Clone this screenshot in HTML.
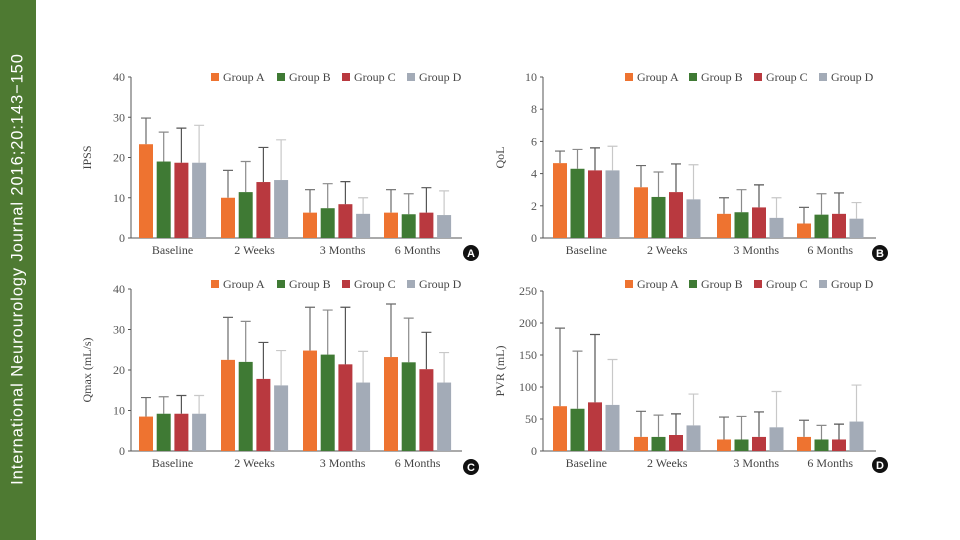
<!DOCTYPE html>
<html><head><meta charset="utf-8">
<style>
body{margin:0;width:960px;height:540px;background:#fff;overflow:hidden;position:relative;font-family:"Liberation Serif",serif;}
#strip{position:absolute;left:0;top:0;width:36px;height:540px;background:#4e7a32;}
#strip span{position:absolute;left:18px;top:269px;transform:translate(-50%,-50%) rotate(-90deg);white-space:nowrap;color:#fff;font-family:"Liberation Sans",sans-serif;font-size:16.5px;letter-spacing:0.9px;}
svg{position:absolute;left:0;top:0;}
</style></head><body>
<div id="strip"><span>International Neurourology Journal 2016;20:143−150</span></div>
<svg id="chart" width="960" height="540"></svg>
<script>
const categories=["Baseline","2 Weeks","3 Months","6 Months"];
const groups=["Group A","Group B","Group C","Group D"];
const ipssMean=[[23.3,19,18.7,18.7],[10,11.4,13.9,14.4],[6.3,7.4,8.4,6],[6.3,5.9,6.3,5.7]];
const ipssTop=[[29.8,26.3,27.3,28],[16.8,19,22.5,24.4],[12,13.5,14,10],[12,11,12.5,11.7]];
const ipssTicks=[0,10,20,30,40];
const qolMean=[[4.65,4.3,4.2,4.2],[3.15,2.55,2.85,2.4],[1.5,1.6,1.9,1.25],[0.9,1.45,1.5,1.2]];
const qolTop=[[5.4,5.5,5.6,5.7],[4.5,4.1,4.6,4.55],[2.5,3.0,3.3,2.5],[1.9,2.75,2.8,2.2]];
const qolTicks=[0,2,4,6,8,10];
const qmaxMean=[[8.5,9.2,9.2,9.2],[22.5,22,17.8,16.2],[24.8,23.8,21.4,16.9],[23.2,21.9,20.2,16.9]];
const qmaxTop=[[13.2,13.4,13.7,13.7],[33,32,26.8,24.8],[35.5,34.8,35.5,24.6],[36.3,32.8,29.3,24.3]];
const qmaxTicks=[0,10,20,30,40];
const pvrMean=[[70,66,76,72],[22,22,25,40],[18,18,22,37],[22,18,18,46]];
const pvrTop=[[192,156,182,143],[62,56,58,89],[53,54,61,93],[48,40,42,103]];
const pvrTicks=[0,50,100,150,200,250];

const colors=["#ee7330","#3f7a34","#b9393f","#a3abb7"];
const errColors=["#6a6a6a","#8a8a8a","#555","#c8c8c8"];
const NS="http://www.w3.org/2000/svg";
const svg=document.getElementById('chart');
function mk(tag,attrs,parent){const e=document.createElementNS(NS,tag);for(const k in attrs)e.setAttribute(k,attrs[k]);(parent||svg).appendChild(e);return e;}

function panel(p){
  const g=mk('g',{});
  
  
  const ymax=p.ticks[p.ticks.length-1];
  const y=v=>p.y0-(v/ymax)*(p.y0-p.y1);
  const barX=(ci,gi)=>p.gx[ci]+gi*p.step;
  const ax=mk('line',{x1:p.ax,y1:p.y1,x2:p.ax,y2:p.y0,stroke:'#555','stroke-width':1},g);
  
  const bx=mk('line',{x1:p.ax,y1:p.y0,x2:p.axEnd,y2:p.y0,stroke:'#555','stroke-width':1},g);
  
  p.ticks.forEach(t=>{
    mk('line',{x1:p.ax-3,x2:p.ax,y1:y(t),y2:y(t),stroke:'#555'},g);
    const tx=mk('text',{x:p.ax-6,y:y(t)+4,'text-anchor':'end','font-size':12,fill:'#555'},g);
    tx.textContent=t;
    
  });
  const yt=mk('text',{x:0,y:0,transform:`translate(${p.ylx},${(p.y0+p.y1)/2}) rotate(-90)`,'text-anchor':'middle','font-size':12,fill:'#444'},g);
  yt.textContent=p.ylabel;
  
  categories.forEach((c,ci)=>{
    const cx=barX(ci,0)+ (3*p.step+p.bw)/2 + p.lblOff[ci];
    const t=mk('text',{x:cx,y:p.y0+16,'text-anchor':'middle','font-size':12,fill:'#444'},g);
    t.textContent=c;
    
    p.mean[ci].forEach((v,gi)=>{
      const x=barX(ci,gi);
      const top=p.top[ci][gi];
      const cxm=x+p.bw/2;
      const eb=mk('path',{d:`M${cxm},${y(v)}V${y(top)}M${cxm-5},${y(top)}H${cxm+5}`,stroke:errColors[gi],'stroke-width':1.2,fill:'none'},g);
      
      const r=mk('rect',{x:x,y:y(v),width:p.bw,height:p.y0-y(v),fill:colors[gi]},g);
      
    });
  });
  groups.forEach((gr,gi)=>{
    const lx=p.legX[gi];
    const sq=mk('rect',{x:lx,y:p.legY-4,width:8,height:8,fill:colors[gi]},g);
    
    const lt=mk('text',{x:lx+12,y:p.legY+4,'font-size':12,fill:'#444'},g);
    lt.textContent=gr;
    
  });
  const c=mk('circle',{cx:p.badge[0],cy:p.badge[1],r:8,fill:'#111'},g);
  
  const bt=mk('text',{x:p.badge[0],y:p.badge[1]+4,'text-anchor':'middle','font-size':11,'font-weight':'bold',fill:'#fff','font-family':'Liberation Sans,sans-serif'},g);
  bt.textContent=p.letter;
  
}
const leftGx=[139,221,303,384], rightGx=[553,634,717,797];
panel({name:'ipss-chart',ticks:ipssTicks,mean:ipssMean,top:ipssTop,ax:131,axEnd:462,y0:238,y1:77,gx:leftGx,step:17.7,bw:14,ylabel:'IPSS',ylx:91,legX:[211,277,342,407],legY:77,badge:[471,253],letter:'A',lblOff:[0,0,6,0]});
panel({name:'qol-chart',ticks:qolTicks,mean:qolMean,top:qolTop,ax:543,axEnd:876,y0:238,y1:77,gx:rightGx,step:17.5,bw:14,ylabel:'QoL',ylx:504,legX:[625,689,754,819],legY:77,badge:[880,253],letter:'B',lblOff:[0,0,6,0]});
panel({name:'qmax-chart',ticks:qmaxTicks,mean:qmaxMean,top:qmaxTop,ax:131,axEnd:462,y0:451,y1:289,gx:leftGx,step:17.7,bw:14,ylabel:'Qmax (mL/s)',ylx:91,legX:[211,277,342,407],legY:284,badge:[471,467],letter:'C',lblOff:[0,0,6,0]});
panel({name:'pvr-chart',ticks:pvrTicks,mean:pvrMean,top:pvrTop,ax:543,axEnd:876,y0:451,y1:291,gx:rightGx,step:17.5,bw:14,ylabel:'PVR (mL)',ylx:504,legX:[625,689,754,819],legY:284,badge:[880,465],letter:'D',lblOff:[0,0,6,0]});
</script>
</body></html>
